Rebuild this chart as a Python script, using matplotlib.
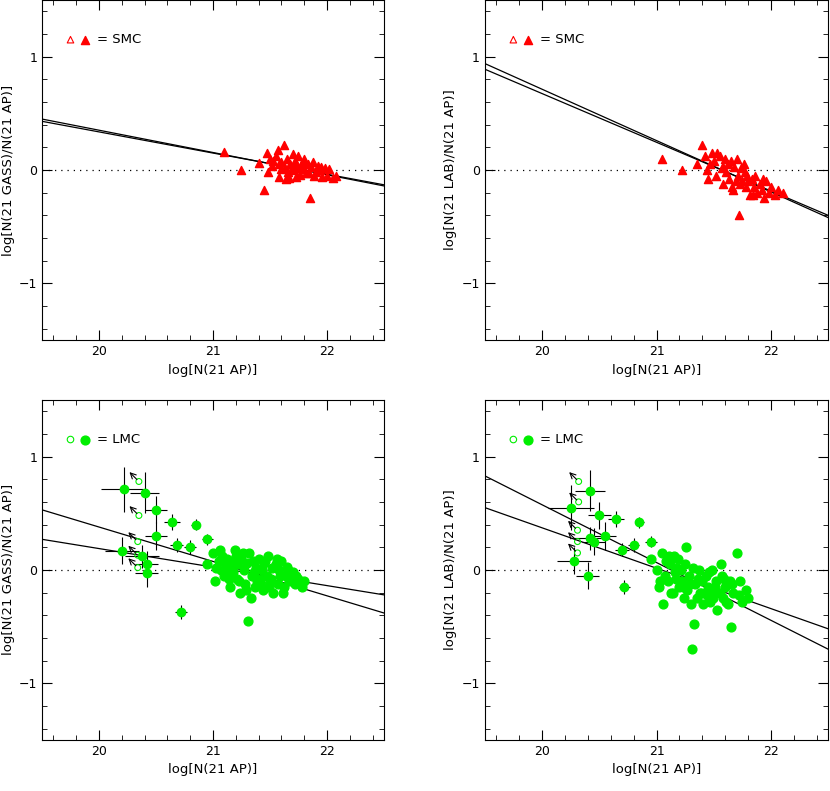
import matplotlib.pyplot as plt
import numpy as np
from matplotlib.ticker import MultipleLocator

# SMC, GASS / AP
smc_g_x = [21.10, 21.25, 21.40, 21.45, 21.47, 21.50, 21.52, 21.55, 21.57, 21.58, 21.60, 21.62, 21.63,
           21.65, 21.66, 21.68, 21.70, 21.71, 21.72, 21.74, 21.75, 21.76, 21.78, 21.79, 21.80, 21.82,
           21.83, 21.85, 21.86, 21.88, 21.90, 21.92, 21.94, 21.96, 21.98, 22.00, 22.02, 22.05, 22.08,
           21.48, 21.53, 21.60, 21.67, 21.73, 21.77, 21.84, 21.89, 21.95, 21.58, 21.64, 21.70, 21.80]
smc_g_y = [0.16, 0.00, 0.06, -0.18, 0.15, 0.10, 0.04, 0.12, 0.18, -0.06, 0.07, 0.22, 0.02,
           0.10, -0.02, 0.05, 0.14, 0.00, 0.08, 0.04, 0.12, -0.04, 0.06, 0.01, 0.10, -0.03,
           0.05, -0.25, 0.03, 0.07, -0.02, 0.04, 0.00, -0.06, 0.02, -0.05, 0.01, -0.07, -0.05,
           -0.02, 0.08, 0.01, -0.07, -0.06, 0.02, -0.03, -0.05, 0.03, 0.05, -0.08, 0.03, 0.06]
smc_g_fit1 = [0.45, -0.14]
smc_g_fit2 = [0.43, -0.13]

# SMC, LAB / AP
smc_l_x = [21.05, 21.22, 21.35, 21.40, 21.42, 21.45, 21.48, 21.50, 21.52, 21.55, 21.57, 21.58, 21.60,
           21.62, 21.63, 21.65, 21.66, 21.68, 21.70, 21.71, 21.72, 21.74, 21.75, 21.76, 21.78, 21.79,
           21.80, 21.82, 21.83, 21.85, 21.86, 21.88, 21.90, 21.92, 21.94, 21.96, 21.98, 22.00, 22.03,
           22.06, 22.10, 21.44, 21.53, 21.61, 21.69, 21.77, 21.84, 21.93, 21.47, 21.58, 21.67, 21.73]
smc_l_y = [0.10, 0.00, 0.05, 0.22, 0.12, -0.08, 0.15, 0.08, -0.05, 0.12, 0.02, -0.12, 0.10,
           0.05, -0.08, 0.08, -0.15, 0.03, 0.10, -0.05, -0.40, 0.02, -0.10, 0.05, -0.15, -0.05,
           -0.10, -0.22, -0.08, -0.15, -0.05, -0.20, -0.12, -0.18, -0.25, -0.10, -0.20, -0.15, -0.22,
           -0.18, -0.20, 0.00, 0.15, -0.02, -0.10, -0.02, -0.22, -0.08, 0.05, 0.03, -0.18, -0.12]
smc_l_fit1 = [0.94, -0.42]
smc_l_fit2 = [0.89, -0.40]

# LMC detections with error bars (GASS)
lmc_g_ex = [20.22, 20.40, 20.50, 20.50, 20.64, 20.20, 20.38, 20.42, 20.42, 20.72, 20.85, 20.80, 20.68, 20.95]
lmc_g_ey = [0.71, 0.68, 0.53, 0.30, 0.42, 0.17, 0.12, 0.05, -0.03, -0.37, 0.40, 0.20, 0.22, 0.27]
lmc_g_xe = [0.20, 0.13, 0.10, 0.10, 0.07, 0.15, 0.15, 0.10, 0.10, 0.05, 0.04, 0.05, 0.06, 0.05]
lmc_g_ye = [0.20, 0.18, 0.12, 0.12, 0.07, 0.12, 0.10, 0.12, 0.12, 0.06, 0.05, 0.06, 0.06, 0.05]
lmc_g_lx = [20.35, 20.35, 20.34, 20.34, 20.34]
lmc_g_ly = [0.78, 0.48, 0.25, 0.13, 0.02]

# LMC detections with error bars (LAB)
lmc_l_ex = [20.25, 20.42, 20.50, 20.55, 20.65, 20.28, 20.42, 20.45, 20.40, 20.72, 20.85, 20.80, 20.70, 20.95]
lmc_l_ey = [0.55, 0.70, 0.48, 0.30, 0.45, 0.08, 0.28, 0.25, -0.05, -0.15, 0.42, 0.22, 0.18, 0.25]
lmc_l_lx = [20.32, 20.32, 20.31, 20.31, 20.31]
lmc_l_ly = [0.78, 0.60, 0.35, 0.25, 0.15]

# LMC bulk points
lmc_bx = [20.95, 21.00, 21.02, 21.05, 21.07, 21.08, 21.10, 21.12, 21.13, 21.15, 21.17, 21.18, 21.20, 21.21,
          21.22, 21.24, 21.25, 21.27, 21.28, 21.30, 21.31, 21.32, 21.34, 21.35, 21.37, 21.38, 21.40, 21.41,
          21.43, 21.44, 21.45, 21.47, 21.48, 21.50, 21.52, 21.53, 21.55, 21.57, 21.58, 21.60, 21.62, 21.64,
          21.65, 21.67, 21.70, 21.72, 21.75, 21.78, 21.80, 21.06, 21.11, 21.16, 21.23, 21.26, 21.33, 21.36,
          21.42, 21.46, 21.51, 21.56, 21.61, 21.66, 21.73, 21.03, 21.14, 21.19, 21.29, 21.39, 21.49, 21.59]
lmc_g_by = [0.05, 0.15, -0.10, 0.08, 0.00, 0.12, -0.05, 0.10, 0.03, -0.15, 0.08, -0.02, 0.12, -0.08,
            0.05, -0.20, 0.10, 0.00, -0.12, 0.06, -0.45, 0.15, -0.05, 0.08, -0.15, 0.02, 0.10, -0.08,
            0.00, -0.18, 0.06, -0.05, 0.12, -0.10, 0.02, -0.20, 0.05, -0.12, 0.00, 0.08, -0.15, -0.05,
            0.03, -0.10, -0.02, -0.12, -0.08, -0.15, -0.10, 0.18, 0.05, 0.00, -0.10, 0.15, -0.25, -0.02,
            -0.12, 0.08, -0.08, 0.10, -0.20, 0.00, -0.05, 0.02, -0.08, 0.18, -0.18, -0.10, -0.15, -0.05]
lmc_l_by = [0.10, 0.00, -0.15, 0.15, -0.05, 0.08, -0.10, 0.05, -0.20, 0.12, -0.08, 0.02, -0.15, 0.00,
            -0.10, -0.25, 0.05, -0.18, -0.05, -0.30, -0.70, 0.02, -0.12, -0.25, 0.00, -0.20, -0.10, -0.30,
            -0.05, -0.22, -0.15, -0.28, 0.00, -0.18, -0.10, -0.35, -0.20, -0.05, -0.25, -0.15, -0.30, -0.10,
            -0.50, -0.20, 0.15, -0.22, -0.28, -0.18, -0.25, -0.30, 0.12, -0.02, -0.15, 0.20, -0.48, -0.08,
            -0.20, -0.02, -0.15, 0.05, -0.28, -0.12, -0.10, -0.10, -0.20, 0.10, -0.12, -0.20, -0.25, -0.08]
lmc_g_fit1 = [0.53, -0.38]
lmc_g_fit2 = [0.27, -0.22]
lmc_l_fit1 = [0.83, -0.70]
lmc_l_fit2 = [0.55, -0.52]

XR = [19.5, 22.5]
GREEN = '#00ee00'

fig = plt.figure(figsize=(8.30, 7.91), dpi=100)
axes = [fig.add_axes([0.0506, 0.570, 0.412, 0.430]),
        fig.add_axes([0.584, 0.570, 0.414, 0.430]),
        fig.add_axes([0.0506, 0.0645, 0.412, 0.430]),
        fig.add_axes([0.584, 0.0645, 0.414, 0.430])]
ylabels = ['log[N(21 GASS)/N(21 AP)]', 'log[N(21 LAB)/N(21 AP)]',
           'log[N(21 GASS)/N(21 AP)]', 'log[N(21 LAB)/N(21 AP)]']

for ax, yl in zip(axes, ylabels):
    ax.set_xlim(*XR)
    ax.set_ylim(-1.5, 1.5)
    ax.xaxis.set_major_locator(MultipleLocator(1))
    ax.xaxis.set_minor_locator(MultipleLocator(0.2))
    ax.yaxis.set_major_locator(MultipleLocator(1))
    ax.yaxis.set_minor_locator(MultipleLocator(0.2))
    ax.tick_params(which='both', direction='in', top=True, right=True, labelsize=9)
    ax.tick_params(which='major', length=7)
    ax.tick_params(which='minor', length=3.5)
    ax.axhline(0, color='black', ls=(0, (1, 4)), lw=0.9)
    ax.set_xlabel('log[N(21 AP)]', fontsize=9.5)
    ax.set_ylabel(yl, fontsize=9.5, labelpad=3)
    ax.set_xticks([20, 21, 22])
    ax.set_yticks([-1, 0, 1])
    ax.set_yticklabels(['\u22121', '0', '1'])

# SMC panels
for ax, xs, ys, f1, f2 in [(axes[0], smc_g_x, smc_g_y, smc_g_fit1, smc_g_fit2),
                           (axes[1], smc_l_x, smc_l_y, smc_l_fit1, smc_l_fit2)]:
    ax.plot(XR, f1, color='black', lw=0.9)
    ax.plot(XR, f2, color='black', lw=0.9)
    ax.scatter(xs, ys, marker='^', s=34, color='red', zorder=3)
    ax.scatter([19.75], [1.15], marker='^', s=22, facecolor='none', edgecolor='red', lw=0.8)
    ax.scatter([19.88], [1.15], marker='^', s=34, color='red')
    ax.text(19.98, 1.15, '= SMC', va='center', fontsize=9.5)

# LMC panels
for ax, ex, ey, lx, ly, by, f1, f2 in [
        (axes[2], lmc_g_ex, lmc_g_ey, lmc_g_lx, lmc_g_ly, lmc_g_by, lmc_g_fit1, lmc_g_fit2),
        (axes[3], lmc_l_ex, lmc_l_ey, lmc_l_lx, lmc_l_ly, lmc_l_by, lmc_l_fit1, lmc_l_fit2)]:
    ax.plot(XR, f1, color='black', lw=0.9)
    ax.plot(XR, f2, color='black', lw=0.9)
    ax.errorbar(ex, ey, xerr=lmc_g_xe, yerr=lmc_g_ye, fmt='o', ms=6, color=GREEN,
                ecolor='black', elinewidth=0.8, capsize=0, zorder=3)
    ax.scatter(lmc_bx, by, s=40, color=GREEN, zorder=3)
    ax.scatter(lx, ly, s=18, facecolor='none', edgecolor=GREEN, lw=0.8, zorder=3)
    for x0, y0 in zip(lx, ly):
        ax.annotate('', xy=(x0 - 0.1, y0 + 0.1), xytext=(x0, y0),
                    arrowprops=dict(arrowstyle='->', color='black', lw=0.8))
    ax.scatter([19.75], [1.15], s=22, facecolor='none', edgecolor=GREEN, lw=0.8)
    ax.scatter([19.88], [1.15], s=40, color=GREEN)
    ax.text(19.98, 1.15, '= LMC', va='center', fontsize=9.5)

fig.savefig('out.png', dpi=100, facecolor='white')
